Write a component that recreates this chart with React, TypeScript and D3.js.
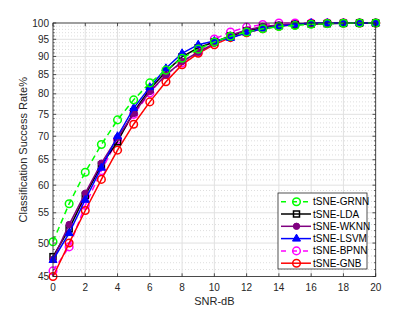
import React from "react";
import * as d3 from "d3";

const snr = d3.range(0, 21);
const grnn = [50.2, 56.6, 62.5, 68.2, 73.7, 78.5, 82.8, 86.2, 89.5, 92.1, 94.2, 95.9, 97.2, 98.2, 98.9, 99.2, 99.6, 99.8, 99.9, 100, 100];
const lda = [47.9, 52.3, 58.1, 63.9, 68.8, 75.6, 81.2, 85.8, 89.9, 92.5, 94.2, 96.0, 97.5, 98.6, 99.2, 99.5, 99.7, 99.8, 99.9, 100, 100];
const wknn = [47.5, 53.0, 58.5, 64.3, 69.7, 75.2, 80.6, 84.9, 88.6, 91.2, 93.8, 96.2, 97.8, 98.9, 99.4, 99.6, 99.8, 99.9, 100, 100, 100];
const lsvm = [47.4, 51.6, 57.3, 63.4, 70.0, 76.5, 81.7, 86.7, 90.9, 93.4, 94.5, 95.4, 97.0, 98.3, 99.0, 99.5, 100, 100, 100, 100, 100];
const bpnn = [45.8, 49.4, 56.3, 62.8, 69.3, 75.0, 80.2, 85.0, 88.2, 91.2, 95.1, 97.2, 98.7, 99.5, 100, 100, 100, 100, 100, 100, 100];
const gnb = [45.0, 50.0, 55.4, 61.1, 67.0, 72.7, 78.0, 83.1, 87.7, 90.9, 93.4, 95.5, 97.0, 98.2, 99.0, 99.5, 99.8, 99.9, 100, 100, 100];

const xTicks = [0, 2, 4, 6, 8, 10, 12, 14, 16, 18, 20];
const yTicks = [45, 50, 55, 60, 65, 70, 75, 80, 85, 90, 95, 100];

type Series = { name: string; values: number[]; color: string; dash?: string; marker: string };

const series: Series[] = [
  { name: "tSNE-GRNN", values: grnn, color: "#00ff00", dash: "6,4", marker: "circle" },
  { name: "tSNE-LDA", values: lda, color: "#000000", marker: "square" },
  { name: "tSNE-WKNN", values: wknn, color: "#800080", marker: "dot" },
  { name: "tSNE-LSVM", values: lsvm, color: "#0000ff", marker: "triangle" },
  { name: "tSNE-BPNN", values: bpnn, color: "#ff00ff", dash: "6,4", marker: "circle" },
  { name: "tSNE-GNB", values: gnb, color: "#ff0000", marker: "circle" },
];
// draw order: green on top
const drawOrder = ["tSNE-BPNN", "tSNE-GNB", "tSNE-LDA", "tSNE-WKNN", "tSNE-LSVM", "tSNE-GRNN"];

const Marker = ({ type, x, y, color }: { type: string; x: number; y: number; color: string }) => {
  if (type === "square")
    return <rect x={x - 3} y={y - 3} width={6} height={6} fill="none" stroke={color} strokeWidth={1.5} />;
  if (type === "dot") return <circle cx={x} cy={y} r={3.2} fill={color} stroke={color} strokeWidth={1} />;
  if (type === "triangle")
    return (
      <path
        d={`M${x},${y - 4.5}L${x + 4},${y + 2.5}L${x - 4},${y + 2.5}Z`}
        fill={color}
        stroke={color}
        strokeWidth={1}
      />
    );
  return <circle cx={x} cy={y} r={3.8} fill="none" stroke={color} strokeWidth={1.5} />;
};

const App = () => {
  const width = 415;
  const height = 312;
  const left = 53;
  const right = 375.7;
  const top = 23;
  const bottom = 276.5;

  const x = d3.scaleLinear().domain([0, 20]).range([left, right]);
  const y = d3.scaleLog().domain([45, 100]).range([bottom, top]);
  const line = d3
    .line<number>()
    .x((d, i) => x(snr[i]))
    .y((d) => y(d));

  const minorY = d3.range(46, 100).filter((v) => v % 5 !== 0);
  const axisColor = "#262626";
  const font = "'Liberation Sans', Arial, Helvetica, sans-serif";

  const legX = 278;
  const legY = 193;
  const legRow = 12.3;

  return (
    <svg
      width={width}
      height={height}
      style={{ position: "absolute", left: 0, top: 0, background: "#fff" }}
      fontFamily={font}
    >
      {/* minor grid */}
      {minorY.map((v) => (
        <line key={"mg" + v} x1={left} x2={right} y1={y(v)} y2={y(v)} stroke="#c8c8c8" strokeWidth={0.6} strokeDasharray="1,2" />
      ))}
      {/* major grid */}
      {yTicks.map((v) => (
        <line key={"gy" + v} x1={left} x2={right} y1={y(v)} y2={y(v)} stroke="#e1e1e1" strokeWidth={1} />
      ))}
      {xTicks.map((v) => (
        <line key={"gx" + v} x1={x(v)} x2={x(v)} y1={top} y2={bottom} stroke="#e1e1e1" strokeWidth={1} />
      ))}

      {/* series */}
      {drawOrder.map((n) => {
        const s = series.find((d) => d.name === n)!;
        return (
          <g key={n}>
            <path d={line(s.values) || ""} fill="none" stroke={s.color} strokeWidth={1.5} strokeDasharray={s.dash} />
            {s.values.map((v, i) => (
              <Marker key={i} type={s.marker} x={x(snr[i])} y={y(v)} color={s.color} />
            ))}
          </g>
        );
      })}

      {/* box */}
      <rect x={left} y={top} width={right - left} height={bottom - top} fill="none" stroke={axisColor} strokeWidth={0.8} />
      {/* ticks */}
      {xTicks.map((v) => (
        <g key={"tx" + v}>
          <line x1={x(v)} x2={x(v)} y1={bottom} y2={bottom - 3.2} stroke={axisColor} strokeWidth={0.8} />
          <line x1={x(v)} x2={x(v)} y1={top} y2={top + 3.2} stroke={axisColor} strokeWidth={0.8} />
          <text x={x(v)} y={bottom + 14} textAnchor="middle" fontSize={10} fill={axisColor}>
            {v}
          </text>
        </g>
      ))}
      {yTicks.map((v) => (
        <g key={"ty" + v}>
          <line x1={left} x2={left + 3.2} y1={y(v)} y2={y(v)} stroke={axisColor} strokeWidth={0.8} />
          <line x1={right} x2={right - 3.2} y1={y(v)} y2={y(v)} stroke={axisColor} strokeWidth={0.8} />
          <text x={left - 4} y={y(v) + 3.5} textAnchor="end" fontSize={10} fill={axisColor}>
            {v}
          </text>
        </g>
      ))}
      {minorY.map((v) => (
        <g key={"tm" + v}>
          <line x1={left} x2={left + 1.8} y1={y(v)} y2={y(v)} stroke={axisColor} strokeWidth={0.6} />
          <line x1={right} x2={right - 1.8} y1={y(v)} y2={y(v)} stroke={axisColor} strokeWidth={0.6} />
        </g>
      ))}

      {/* axis labels */}
      <text x={(left + right) / 2} y={305} textAnchor="middle" fontSize={11} fill={axisColor}>
        SNR-dB
      </text>
      <text
        transform={`translate(27,${(top + bottom) / 2}) rotate(-90)`}
        textAnchor="middle"
        fontSize={11}
        fill={axisColor}
      >
        Classification Success Rate%
      </text>

      {/* legend */}
      <rect x={legX} y={legY} width={89} height={76} fill="#fff" stroke={axisColor} strokeWidth={0.8} />
      {series.map((s, i) => {
        const cy = legY + 8.7 + i * legRow;
        return (
          <g key={"lg" + s.name}>
            <line x1={legX + 3} x2={legX + 33} y1={cy} y2={cy} stroke={s.color} strokeWidth={1.5} strokeDasharray={s.dash ? "5,6" : undefined} />
            <Marker type={s.marker} x={legX + 18.5} y={cy} color={s.color} />
            <text x={legX + 35} y={cy + 3.5} fontSize={10} fill="#000">
              {s.name}
            </text>
          </g>
        );
      })}
    </svg>
  );
};

export default App;
